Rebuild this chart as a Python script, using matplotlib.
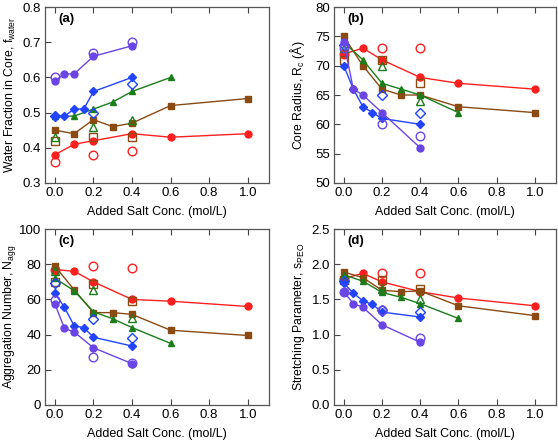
from matplotlib import pyplot as plt

plt.rcParams['font.family'] = ['Liberation Sans', 'DejaVu Sans']
plt.rcParams['mathtext.fontset'] = 'custom'
plt.rcParams['mathtext.rm'] = 'Liberation Sans'

# colours of the five series
red = '#ff1f1f'
brown = '#8b4a12'
green = '#1a7d1a'
blue = '#2244ff'
purple = '#6a45e6'

# x values (added salt, mol/L)
x_red = [0.0, 0.1, 0.2, 0.4, 0.6, 1.0]
x_brown = [0.0, 0.1, 0.2, 0.3, 0.4, 0.6, 1.0]
x_green = [0.0, 0.1, 0.2, 0.3, 0.4, 0.6]
x_blue = [0.0, 0.05, 0.1, 0.15, 0.2, 0.4]
x_purple = [0.0, 0.05, 0.1, 0.2, 0.4]
x_open = [0.0, 0.2, 0.4]

# (a) water fraction in core
fw_red = [0.38, 0.41, 0.42, 0.44, 0.43, 0.44]
fw_brown = [0.45, 0.44, 0.48, 0.46, 0.47, 0.52, 0.54]
fw_green = [0.49, 0.49, 0.51, 0.53, 0.56, 0.60]
fw_blue = [0.49, 0.49, 0.51, 0.51, 0.56, 0.60]
fw_purple = [0.59, 0.61, 0.61, 0.66, 0.69]
fw_red_o = [0.36, 0.38, 0.39]
fw_brown_o = [0.42, 0.43, 0.43]
fw_green_o = [0.43, 0.46, 0.48]
fw_blue_o = [0.49, 0.50, 0.58]
fw_purple_o = [0.60, 0.67, 0.70]

# (b) core radius
rc_red = [72, 73, 71, 68, 67, 66]
rc_brown = [75, 70, 66, 65, 65, 63, 62]
rc_green = [74, 71, 67, 66, 65, 62]
rc_blue = [70, 66, 63, 62, 61, 60]
rc_purple = [74, 66, 65, 62, 56]
rc_red_o = [72, 73, 73]
rc_brown_o = [71, 71, 67]
rc_green_o = [73, 70, 64]
rc_blue_o = [73.5, 65, 62]
rc_purple_o = [73, 60, 58]

# (c) aggregation number
na_red = [77, 76, 70, 60, 59, 56]
na_brown = [79, 65.5, 52.5, 52.5, 51.5, 42.5, 39.5]
na_green = [72, 65, 53, 49, 44, 35]
na_blue = [63.5, 55.5, 45, 44, 38.5, 33.5]
na_purple = [57.5, 43.5, 41.5, 32.5, 23.5]
na_red_o = [77, 79, 78]
na_brown_o = [70, 69, 59]
na_green_o = [76, 65.5, 49.5]
na_blue_o = [69.5, 49, 38]
na_purple_o = [59.5, 27, 24]

# (d) stretching parameter
sp_red = [1.80, 1.87, 1.75, 1.61, 1.52, 1.41]
sp_brown = [1.89, 1.81, 1.63, 1.61, 1.62, 1.41, 1.27]
sp_green = [1.85, 1.76, 1.60, 1.53, 1.44, 1.23]
sp_blue = [1.73, 1.59, 1.48, 1.43, 1.32, 1.25]
sp_purple = [1.61, 1.44, 1.39, 1.14, 0.89]
sp_red_o = [1.79, 1.87, 1.87]
sp_brown_o = [1.78, 1.78, 1.65]
sp_green_o = [1.82, 1.65, 1.50]
sp_blue_o = [1.76, 1.35, 1.32]
sp_purple_o = [1.61, 1.35, 0.95]

fig = plt.figure(figsize=(5.58, 4.44), dpi=100)
pos = [[0.081, 0.588, 0.401, 0.396], [0.599, 0.588, 0.397, 0.396],
       [0.081, 0.088, 0.401, 0.396], [0.599, 0.088, 0.397, 0.396]]

panels = [
    ('(a)', 'Water Fraction in Core, f$_\\mathregular{water}$', (0.3, 0.8), [0.3, 0.4, 0.5, 0.6, 0.7, 0.8], '%.1f',
     [fw_red, fw_brown, fw_green, fw_blue, fw_purple], [fw_red_o, fw_brown_o, fw_green_o, fw_blue_o, fw_purple_o]),
    ('(b)', 'Core Radius, R$_\\mathregular{c}$ (Å)', (50, 80), [50, 55, 60, 65, 70, 75, 80], '%d',
     [rc_red, rc_brown, rc_green, rc_blue, rc_purple], [rc_red_o, rc_brown_o, rc_green_o, rc_blue_o, rc_purple_o]),
    ('(c)', 'Aggregation Number, N$_\\mathregular{agg}$', (0, 100), [0, 20, 40, 60, 80, 100], '%d',
     [na_red, na_brown, na_green, na_blue, na_purple], [na_red_o, na_brown_o, na_green_o, na_blue_o, na_purple_o]),
    ('(d)', 'Stretching Parameter, s$_\\mathregular{PEO}$', (0, 2.5), [0.0, 0.5, 1.0, 1.5, 2.0, 2.5], '%.1f',
     [sp_red, sp_brown, sp_green, sp_blue, sp_purple], [sp_red_o, sp_brown_o, sp_green_o, sp_blue_o, sp_purple_o]),
]

xs = [x_red, x_brown, x_green, x_blue, x_purple]
colors = [red, brown, green, blue, purple]
markers = ['o', 's', '^', 'D', 'o']
msizes = [5, 4.6, 5, 4.2, 5]

for p, (tag, ylab, ylim, yt, fmt, filled, opened) in zip(pos, panels):
    ax = fig.add_axes(p)
    for x, y, yo, c, m, ms in zip(xs, filled, opened, colors, markers, msizes):
        ax.plot(x_open, yo, linestyle='none', marker=m, ms=ms + 1.2, mfc='none', mec=c, mew=1.0)
        ax.plot(x, y, color=c, lw=1.0, marker=m, ms=ms, mfc=c, mec=c)
    ax.set_xlim(-0.05, 1.11)
    ax.set_ylim(*ylim)
    ax.set_xticks([0.0, 0.2, 0.4, 0.6, 0.8, 1.0])
    ax.set_xticklabels(['%.1f' % v for v in [0.0, 0.2, 0.4, 0.6, 0.8, 1.0]])
    ax.set_yticks(yt)
    ax.set_yticklabels([fmt % v for v in yt])
    ax.tick_params(direction='in', length=4, width=0.8, labelsize=9.5, color='#444444',
                   top=True, pad=3)
    for s in ax.spines.values():
        s.set_color('#555555')
        s.set_linewidth(0.9)
    ax.set_xlabel('Added Salt Conc. (mol/L)', fontsize=9, labelpad=5)
    ax.set_ylabel(ylab, fontsize=8.8)
    ax.yaxis.set_label_coords(-0.122, 0.5)
    ax.text(0.06, 0.93, tag, transform=ax.transAxes, fontsize=9.5, fontweight='bold', va='center')

fig.savefig('out.png', dpi=100)
